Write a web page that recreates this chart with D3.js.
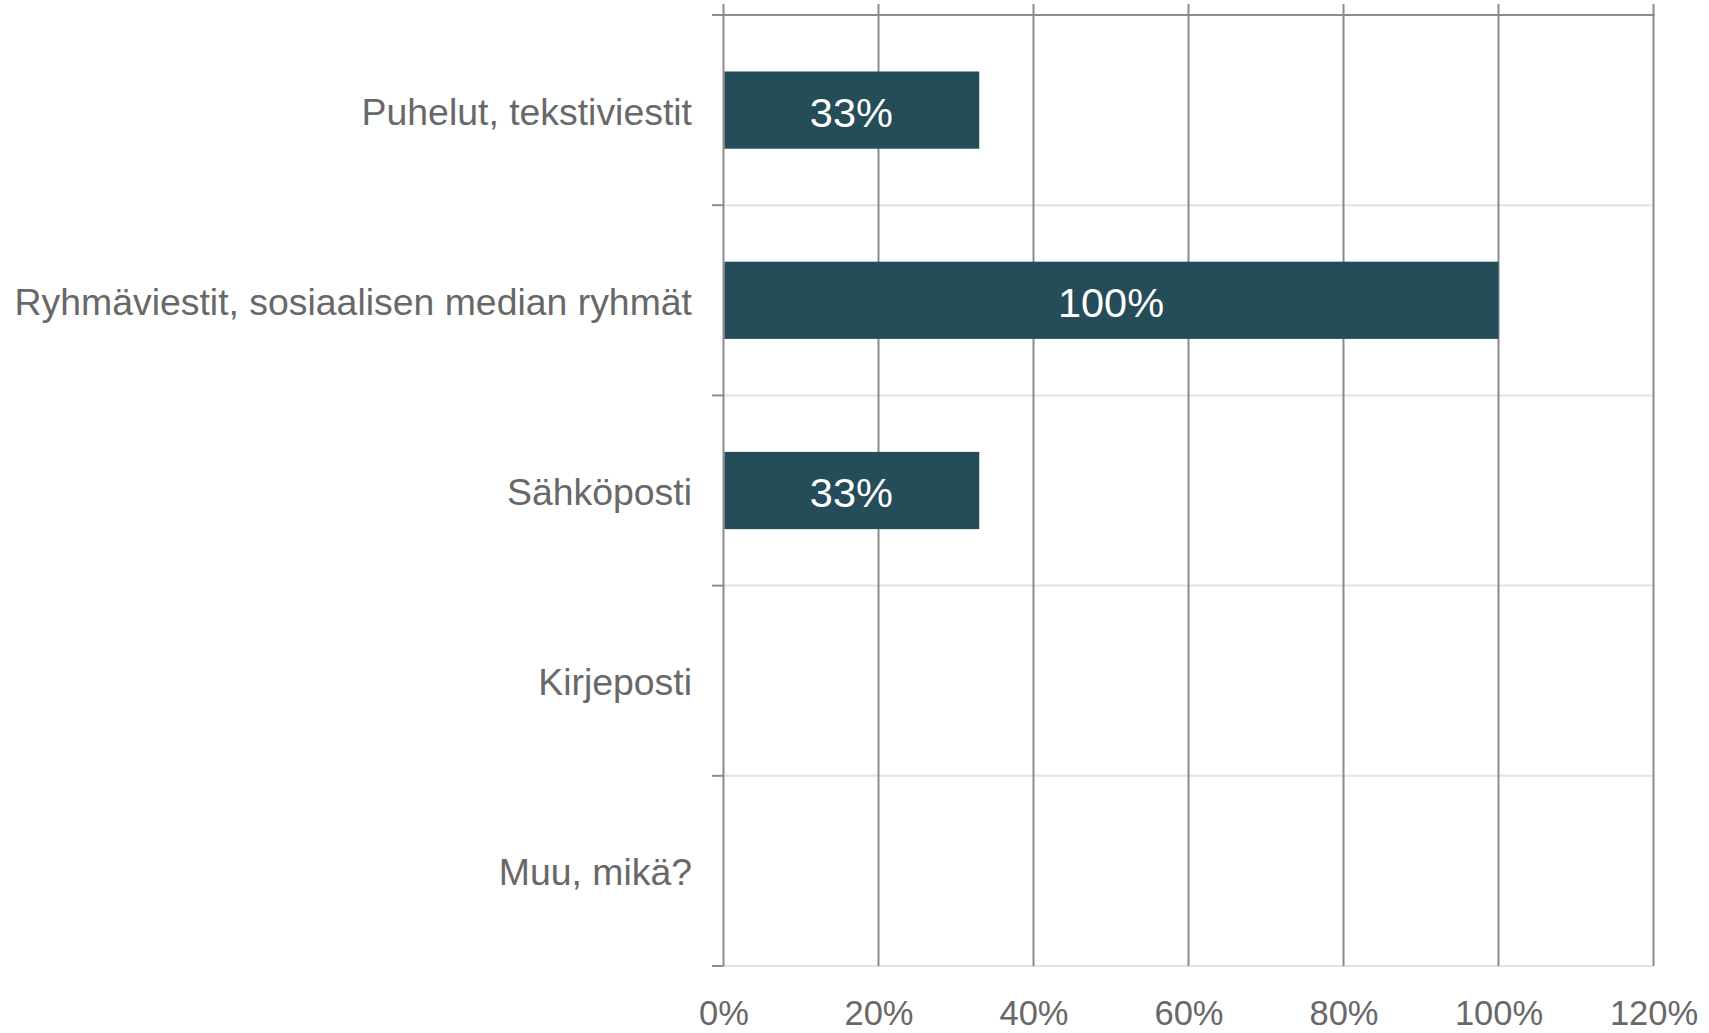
<!DOCTYPE html>
<html><head><meta charset="utf-8">
<script src="https://cdn.jsdelivr.net/npm/d3@7"></script>
<style>
html,body{margin:0;padding:0;background:#fff;}
svg{display:block;}
text{font-family:"Liberation Sans",Arial,sans-serif;}
</style></head>
<body>
<svg id="chart" width="1709" height="1033"></svg>
<script>
const categories = ["Puhelut, tekstiviestit","Ryhmäviestit, sosiaalisen median ryhmät","Sähköposti","Kirjeposti","Muu, mikä?"];
const values = [33, 100, 33, 0, 0];
const xTicks = [0,20,40,60,80,100,120];

(function(){
const svg = d3.select("#chart");
const pLeft = 723.5, pRight = 1653.5, pTop = 15, pBottom = 966;
const x = d3.scaleLinear().domain([0,120]).range([pLeft,pRight]);
const y = d3.scaleBand().domain(categories).range([pTop,pBottom]).paddingInner(0.594).paddingOuter(0.297);
const step = y.step();
const bounds = d3.range(categories.length+1).map(i => pTop + i*step);

const dark = "#8c8c8c", light = "#e3e3e3", txt = "#686868";

svg.append("g").selectAll("line").data(bounds.slice(1)).join("line")
  .attr("x1", pLeft).attr("x2", pRight).attr("y1", d=>d).attr("y2", d=>d)
  .attr("stroke", light).attr("stroke-width", 2);

svg.append("g").selectAll("line").data(xTicks).join("line")
  .attr("x1", d=>x(d)).attr("x2", d=>x(d)).attr("y1", 4).attr("y2", pBottom)
  .attr("stroke", dark).attr("stroke-width", 2);

svg.append("line").attr("x1", 712).attr("x2", pRight+1).attr("y1", pTop).attr("y2", pTop)
  .attr("stroke", dark).attr("stroke-width", 2);

svg.append("g").selectAll("line").data(bounds).join("line")
  .attr("x1", 712).attr("x2", pLeft).attr("y1", d=>d).attr("y2", d=>d)
  .attr("stroke", dark).attr("stroke-width", 2);

const data = categories.map((c,i)=>({c, v: values[i]}));
svg.append("g").selectAll("rect").data(data.filter(d=>d.v>0)).join("rect")
  .attr("x", x(0)+1).attr("y", d=>y(d.c))
  .attr("width", d=>x(d.v)-x(0)-1).attr("height", y.bandwidth())
  .attr("fill", "#244c59");

svg.append("g").selectAll("text").data(data.filter(d=>d.v>0)).join("text")
  .attr("x", d=>(x(0)+x(d.v))/2).attr("y", d=>y(d.c)+y.bandwidth()/2 + 2)
  .attr("text-anchor","middle").attr("dominant-baseline","central")
  .attr("fill","#fff").attr("font-size", 41.5)
  .text(d=>d3.format(".0%")(d.v/100));

const xAxis = d3.axisBottom(x).tickValues(xTicks).tickSize(0).tickPadding(0)
  .tickFormat(d=>d+"%");
const gx = svg.append("g").attr("transform", `translate(0,${pBottom})`).call(xAxis);
gx.select(".domain").remove();
gx.selectAll("text").attr("font-size", 34.5).attr("fill",txt)
  .attr("font-family","'Liberation Sans',Arial,sans-serif")
  .attr("dy", null).attr("y", 47).attr("dominant-baseline","central");

const yAxis = d3.axisLeft(y).tickSize(0).tickPadding(0);
const gy = svg.append("g").attr("transform", `translate(692,0)`).call(yAxis);
gy.select(".domain").remove();
gy.selectAll("text").attr("font-size", 37.4).attr("fill",txt)
  .attr("font-family","'Liberation Sans',Arial,sans-serif")
  .attr("x", 0).attr("dy", null).attr("y", 1.5).attr("dominant-baseline","central");
})();
</script>
</body></html>
